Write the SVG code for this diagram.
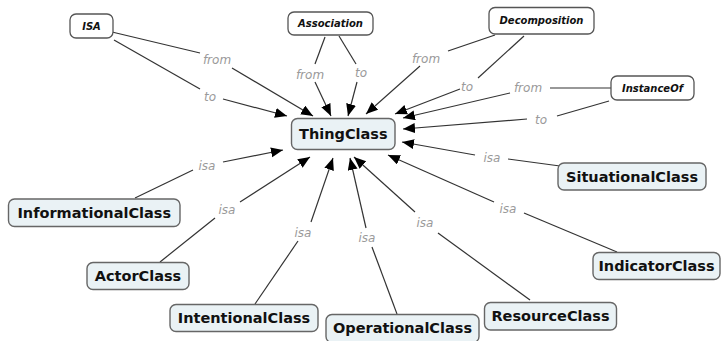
<svg xmlns="http://www.w3.org/2000/svg" width="721" height="341" viewBox="0 0 721 341">
<style>
.cls rect{fill:#eaf2f5;stroke:#666;stroke-width:1.4}
.cls text{font-family:"DejaVu Sans",Verdana,sans-serif;font-weight:bold;font-size:14.5px;fill:#111;text-anchor:middle}
.top rect{fill:#fff;stroke:#555;stroke-width:1.3}
.top text{font-family:"DejaVu Sans",Verdana,sans-serif;font-weight:bold;font-style:italic;font-size:10px;fill:#111;text-anchor:middle}
.edges path{fill:none;stroke:#333;stroke-width:1.2}
.edges path.a{marker-end:url(#arr)}
.lbl{font-family:"DejaVu Sans",Verdana,sans-serif;font-style:italic;font-size:12px;fill:#9a9a9a;text-anchor:middle}
</style>
<defs>
<marker id="arr" markerUnits="userSpaceOnUse" markerWidth="13" markerHeight="11" refX="12" refY="5" orient="auto">
<path d="M0,0 L12,5 L0,10 z" fill="#000"/>
</marker>
</defs>
<rect width="721" height="341" fill="#fff"/>
<g class="edges">
<path d="M112,32 L200,53"/><path class="a" d="M232,68 L313,116"/>
<path d="M114,40 L200,89"/><path class="a" d="M223,99 L287,116"/>
<path d="M325,37 L315,64"/><path class="a" d="M315,82 L331,116"/>
<path d="M339,36 L356,64"/><path class="a" d="M357,82 L348,116"/>
<path d="M495,35 L448,51"/><path class="a" d="M420,66 L366,114"/>
<path d="M524,36 L478,78"/><path class="a" d="M460,89 L395,114"/>
<path d="M611,88 L550,88"/><path class="a" d="M510,93 L403,118"/>
<path d="M609,101 L557,116"/><path class="a" d="M527,119 L403,129"/>
<path d="M560,166 L508,159"/><path class="a" d="M475,155 L402,142"/>
<path d="M617,252 L524,213"/><path class="a" d="M494,202 L388,155"/>
<path d="M530,300 L438,233"/><path class="a" d="M415,212 L354,157"/>
<path d="M397,314 L372,247"/><path class="a" d="M366,228 L350,158"/>
<path d="M255,304 L298,241"/><path class="a" d="M311,222 L333,158"/>
<path d="M160,262 L215,218"/><path class="a" d="M240,202 L310,157"/>
<path d="M135,198 L193,170"/><path class="a" d="M223,162 L283,150"/>
<text class="lbl" x="217" y="64">from</text>
<text class="lbl" x="210" y="101">to</text>
<text class="lbl" x="310" y="79">from</text>
<text class="lbl" x="361" y="77">to</text>
<text class="lbl" x="426" y="63">from</text>
<text class="lbl" x="467" y="91">to</text>
<text class="lbl" x="528" y="92">from</text>
<text class="lbl" x="541" y="124">to</text>
<text class="lbl" x="492" y="162">isa</text>
<text class="lbl" x="508" y="213">isa</text>
<text class="lbl" x="425" y="227">isa</text>
<text class="lbl" x="367" y="242">isa</text>
<text class="lbl" x="303" y="237">isa</text>
<text class="lbl" x="227" y="214">isa</text>
<text class="lbl" x="207" y="170">isa</text>
</g>
<g id="isa" class="top"><rect x="70" y="14" width="43" height="24" rx="6"/><text x="91.5" y="29.5">ISA</text></g>
<g id="association" class="top"><rect x="288" y="12" width="85" height="23" rx="6"/><text x="330.5" y="27">Association</text></g>
<g id="decomposition" class="top"><rect x="489" y="7.5" width="105" height="26.5" rx="6"/><text x="541.5" y="24">Decomposition</text></g>
<g id="instanceof" class="top"><rect x="611" y="76" width="83" height="24" rx="6"/><text x="652.5" y="91.5">InstanceOf</text></g>
<g id="thingclass" class="cls"><rect x="291.5" y="118.5" width="103.5" height="31" rx="6"/><text x="343.3" y="139">ThingClass</text></g>
<g id="situationalclass" class="cls"><rect x="558" y="163" width="148" height="27" rx="6"/><text x="632" y="181.5">SituationalClass</text></g>
<g id="informationalclass" class="cls"><rect x="8.5" y="199" width="171.5" height="27.5" rx="6"/><text x="94.3" y="218">InformationalClass</text></g>
<g id="actorclass" class="cls"><rect x="87" y="262.5" width="102" height="27" rx="6"/><text x="138" y="281">ActorClass</text></g>
<g id="indicatorclass" class="cls"><rect x="593" y="252.5" width="127" height="27" rx="6"/><text x="656.5" y="271">IndicatorClass</text></g>
<g id="intentionalclass" class="cls"><rect x="170" y="304.5" width="148" height="27" rx="6"/><text x="244" y="323">IntentionalClass</text></g>
<g id="operationalclass" class="cls"><rect x="326" y="314.5" width="153" height="28" rx="6"/><text x="402.5" y="333">OperationalClass</text></g>
<g id="resourceclass" class="cls"><rect x="484.5" y="302.5" width="132" height="27.5" rx="6"/><text x="550.5" y="321">ResourceClass</text></g>
</svg>
